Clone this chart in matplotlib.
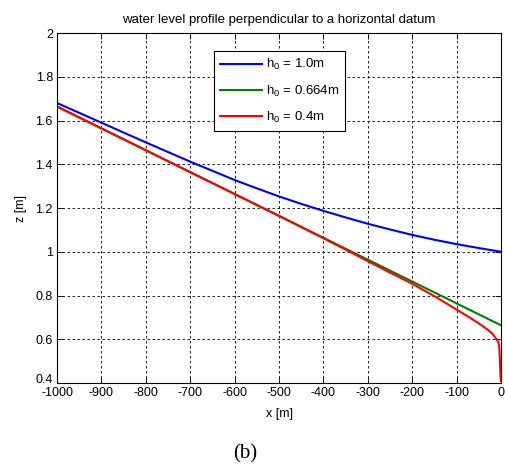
import numpy as np
import matplotlib
matplotlib.use("Agg")
import matplotlib.pyplot as plt
import matplotlib.transforms as mtransforms
from matplotlib.ticker import FormatStrFormatter

plt.rcParams['font.family'] = ['Liberation Sans', 'DejaVu Sans']
plt.rcParams['axes.unicode_minus'] = False
plt.rcParams['mathtext.fontset'] = 'custom'
plt.rcParams['mathtext.rm'] = 'Liberation Sans'

# Water level profiles
x_blue = [-1000, -950, -900, -850, -800, -750, -700, -650, -600, -550, -500,
          -450, -400, -350, -300, -250, -200, -150, -100, -50, 0]
z_blue = [1.68, 1.635, 1.59, 1.545, 1.50, 1.456, 1.412, 1.37, 1.328, 1.29, 1.253,
          1.219, 1.187, 1.157, 1.128, 1.102, 1.077, 1.055, 1.035, 1.017, 1.0]

x_green = [-1000, -900, -800, -700, -600, -500, -400, -300, -200, -100, 0]
z_green = [1.664, 1.564, 1.464, 1.364, 1.264, 1.164, 1.064, 0.964, 0.864, 0.764, 0.664]

x_red = [-1000, -900, -800, -700, -600, -500, -400, -350, -300, -250, -200,
         -150, -100, -75, -50, -30, -20, -10, -6, -4, -3, -2, -1, 0]
z_red = [1.664, 1.564, 1.464, 1.364, 1.264, 1.164, 1.062, 1.010, 0.957, 0.905, 0.854,
         0.797, 0.736, 0.705, 0.673, 0.644, 0.627, 0.600, 0.588, 0.57, 0.53, 0.48, 0.43, 0.41]

labels = ['$\\mathregular{h_0}$ = 1.0m', '$\\mathregular{h_0}$ = 0.664m', '$\\mathregular{h_0}$ = 0.4m']

fig = plt.figure(figsize=(5.05, 4.65), dpi=100)
ax = fig.add_axes([0.113, 0.1763, 0.879, 0.7527])

ax.plot(x_blue, z_blue, color=(0, 0, 1), lw=1.5, label=labels[0])
ax.plot(x_green, z_green, color=(0, 0.5, 0), lw=1.5, label=labels[1])
ax.plot(x_red, z_red, color=(1, 0, 0), lw=1.5, label=labels[2])

ax.set_xlim(-1000, 0)
ax.set_ylim(0.4, 2)
ax.set_xticks(np.arange(-1000, 1, 100))
ax.set_yticks(np.arange(0.4, 2.01, 0.2))
ax.yaxis.set_major_formatter(FormatStrFormatter('%g'))
ax.tick_params(direction='in', top=True, right=True, labelsize=9, length=4, width=0.6, pad=3)
ax.grid(True, color='black', linestyle=(0, (3, 3)), linewidth=0.6)
for s in ax.spines.values():
    s.set_linewidth(0.8)

# lift the bottom y label a little so it clears -1000
fig.canvas.draw()
lbl = ax.get_yticklabels()[0]
lbl.set_transform(lbl.get_transform() + mtransforms.ScaledTranslation(0, 3 / 72, fig.dpi_scale_trans))

ax.set_title('water level profile perpendicular to a horizontal datum', fontsize=9.5, pad=7)
ax.set_xlabel('x [m]', fontsize=9, labelpad=6)
ax.set_ylabel('z [m]', fontsize=9, labelpad=6)

leg = ax.legend(loc='upper left', bbox_to_anchor=(0.353, 0.948), fontsize=9.5,
                fancybox=False, framealpha=1, edgecolor='black', handlelength=3.2,
                handletextpad=0.3, labelspacing=0.85, borderpad=0.45, borderaxespad=0)
leg.get_frame().set_linewidth(0.8)

fig.text(0.485, 0.004, '(b)', family=['Liberation Serif', 'DejaVu Serif'], fontsize=15,
         ha='center', va='bottom')

fig.savefig('out.png', dpi=100)
